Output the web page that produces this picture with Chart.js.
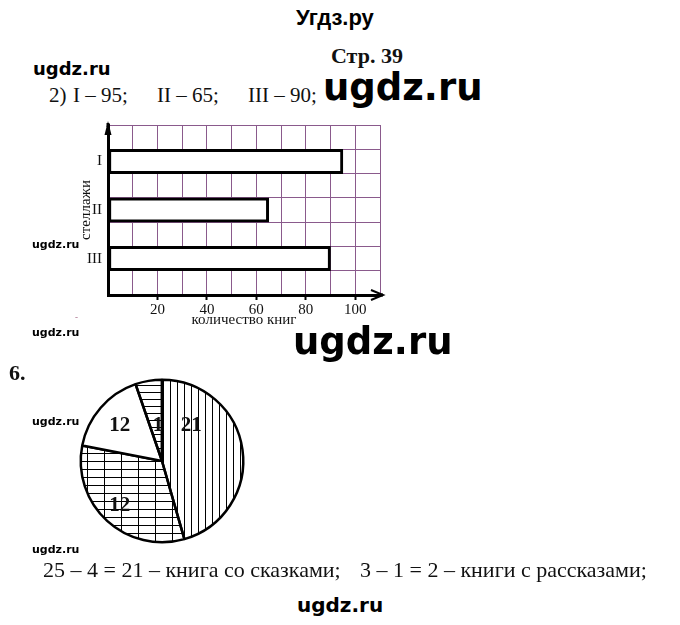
<!DOCTYPE html>
<html lang="ru">
<head>
<meta charset="utf-8">
<title>Стр. 39</title>
<script src="https://cdn.jsdelivr.net/npm/chart.js@4.4.1/dist/chart.umd.min.js"></script>
<style>
  html, body { margin: 0; padding: 0; background: #fff; }
  #page { position: relative; width: 680px; height: 625px; overflow: hidden; background: #fff; }
  .t { position: absolute; line-height: 1; white-space: pre; color: #111; }
  .serif { font-family: "Liberation Serif", "DejaVu Serif", serif; }
  .wm { font-family: "DejaVu Sans", sans-serif; font-weight: bold; color: #000; }
  canvas { position: absolute; }
</style>
</head>
<body>
<div id="page">
  <div class="t" style="left:296px;top:5px;font:bold 22px 'Liberation Sans',Arial,sans-serif;color:#000;">Угдз.ру</div>
  <div class="t serif" style="left:331px;top:45px;font-size:22px;font-weight:bold;">Стр. 39</div>
  <div class="t wm" style="left:33px;top:60px;font-size:18px;">ugdz.ru</div>

  <div class="t serif" style="left:49px;top:85px;font-size:21px;">2)</div>
  <div class="t serif" style="left:73px;top:85px;font-size:21px;">I – 95;</div>
  <div class="t serif" style="left:157px;top:85px;font-size:21px;">II – 65;</div>
  <div class="t serif" style="left:248px;top:85px;font-size:21px;">III – 90;</div>
  <div class="t wm" style="left:323px;top:69px;font-size:37px;">ugdz.ru</div>

  <canvas id="bars" width="340" height="230" style="left:60px;top:110px;"></canvas>

  <div class="t wm" style="left:32px;top:239px;font-size:11px;">ugdz.ru</div>
  <div class="t" style="left:75px;top:313px;font-size:9px;color:#a06080;">-</div>
  <div class="t wm" style="left:32px;top:327px;font-size:11px;">ugdz.ru</div>
  <div class="t wm" style="left:293px;top:323px;font-size:37px;">ugdz.ru</div>

  <div class="t serif" style="left:9px;top:362px;font-size:22px;font-weight:bold;">6.</div>
  <canvas id="pie" width="200" height="200" style="left:62px;top:361px;"></canvas>
  <div class="t wm" style="left:32px;top:416px;font-size:11px;">ugdz.ru</div>
  <div class="t wm" style="left:32px;top:544px;font-size:11px;">ugdz.ru</div>

  <div class="t serif" style="left:43px;top:559px;font-size:22px;">25 – 4 = 21 – книга со сказками;</div>
  <div class="t serif" style="left:360px;top:559px;font-size:22px;">3 – 1 = 2 – книги с рассказами;</div>
  <div class="t wm" style="left:297px;top:595px;font-size:20px;">ugdz.ru</div>
</div>

<script>
// данные: столбчатая диаграмма (стеллажи)
const shelves = ['I', 'II', 'III'];
const bookCounts = [95, 65, 90];
const xTickLabels = [20, 40, 60, 80, 100];
const xMax = 110;

// данные: круговая диаграмма (углы секторов по рисунку, подписи)
const sectorLabels = ['21', '12', '12', '1'];
const sectorDegrees = [164, 117, 60, 19];

const gridPurple = '#8a5a8c';
const serif = '"Liberation Serif", "DejaVu Serif", serif';

// строки с пустыми промежутками между стеллажами
const rowLabels = [''];
const rowValues = [null];
shelves.forEach((s, i) => {
  rowLabels.push(s, '');
  rowValues.push(bookCounts[i], null);
});

// стрелки на осях
const arrowsPlugin = {
  id: 'arrows',
  afterDraw(chart) {
    const { ctx, chartArea: a } = chart;
    ctx.save();
    ctx.strokeStyle = '#000';
    ctx.fillStyle = '#000';
    ctx.lineWidth = 3;
    // ось y вверх
    ctx.beginPath();
    ctx.moveTo(a.left, a.top + 2);
    ctx.lineTo(a.left, a.top - 2);
    ctx.stroke();
    ctx.beginPath();
    ctx.moveTo(a.left, a.top - 4);
    ctx.lineTo(a.left - 3.5, a.top + 10);
    ctx.lineTo(a.left + 3.5, a.top + 10);
    ctx.closePath();
    ctx.fill();
    // ось x вправо
    const tip = a.right + 3;
    ctx.beginPath();
    ctx.moveTo(a.right - 2, a.bottom);
    ctx.lineTo(tip, a.bottom);
    ctx.stroke();
    ctx.lineWidth = 2;
    ctx.beginPath();
    ctx.moveTo(tip - 12, a.bottom - 5);
    ctx.lineTo(tip, a.bottom);
    ctx.lineTo(tip - 12, a.bottom + 5);
    ctx.stroke();
    ctx.restore();
  }
};

new Chart(document.getElementById('bars'), {
  type: 'bar',
  data: {
    labels: rowLabels,
    datasets: [{
      data: rowValues,
      backgroundColor: '#fff',
      borderColor: '#000',
      borderWidth: 3,
      borderSkipped: false,
      categoryPercentage: 1,
      barPercentage: 1
    }]
  },
  options: {
    indexAxis: 'y',
    responsive: false,
    animation: false,
    layout: { padding: { top: 13, right: 20, left: 0, bottom: 0 } },
    plugins: { legend: { display: false }, tooltip: { enabled: false } },
    scales: {
      x: {
        type: 'linear',
        min: 0,
        max: xMax,
        ticks: {
          stepSize: 10,
          autoSkip: false,
          maxRotation: 0,
          padding: 1,
          color: '#111',
          font: { family: serif, size: 15 },
          callback: v => xTickLabels.includes(v) ? String(v) : ''
        },
        grid: {
          color: gridPurple,
          lineWidth: 1,
          tickLength: 5,
          tickWidth: 2,
          tickColor: c => xTickLabels.includes(c.tick && c.tick.value) ? '#000' : 'rgba(0,0,0,0)'
        },
        border: { color: '#000', width: 3 },
        title: {
          display: true,
          text: 'количество книг',
          color: '#111',
          font: { family: serif, size: 15 },
          padding: { top: 0, bottom: 11 }
        },
        afterFit: s => { s.height = 45; }
      },
      y: {
        ticks: { color: '#111', padding: 6, font: { family: serif, size: 15 } },
        grid: { color: gridPurple, lineWidth: 1, drawTicks: false, offset: true },
        border: { color: '#000', width: 3 },
        title: {
          display: true,
          text: 'стеллажи',
          color: '#111',
          font: { family: serif, size: 15 },
          padding: { top: 17, bottom: 0 }
        },
        afterFit: s => { s.width = 48; }
      }
    }
  },
  plugins: [arrowsPlugin]
});

// штриховки
const pieCanvas = document.getElementById('pie');
const pctx = pieCanvas.getContext('2d');
function hatch(w, h, draw) {
  const c = document.createElement('canvas');
  c.width = w;
  c.height = h;
  const g = c.getContext('2d');
  g.fillStyle = '#000';
  draw(g);
  return pctx.createPattern(c, 'repeat');
}
const vertHatch = hatch(7, 8, g => g.fillRect(3, 0, 1, 8));
const gridHatch = hatch(17, 8, g => { g.fillRect(8, 0, 1, 8); g.fillRect(0, 4, 17, 1); });
const horizHatch = hatch(8, 7, g => g.fillRect(0, 3, 8, 1));

// положение подписей относительно центра (в долях радиуса)
const labelSpots = [[0.36, -0.44], [-0.52, 0.55], [-0.52, -0.44], [-0.05, -0.44]];

const pieLabels = {
  id: 'pieLabels',
  afterDatasetsDraw(chart) {
    const arc = chart.getDatasetMeta(0).data[0];
    if (!arc) return;
    const { x, y, outerRadius: r } = arc;
    const ctx = chart.ctx;
    ctx.save();
    ctx.fillStyle = '#111';
    ctx.font = 'bold 21px ' + serif;
    ctx.textAlign = 'center';
    ctx.textBaseline = 'middle';
    sectorLabels.forEach((t, i) => {
      ctx.fillText(t, x + labelSpots[i][0] * r, y + labelSpots[i][1] * r);
    });
    ctx.restore();
  }
};

new Chart(pieCanvas, {
  type: 'pie',
  data: {
    labels: sectorLabels,
    datasets: [{
      data: sectorDegrees,
      backgroundColor: [vertHatch, gridHatch, '#fff', horizHatch],
      borderColor: '#000',
      borderWidth: 2.5
    }]
  },
  options: {
    responsive: false,
    animation: false,
    layout: { padding: 17.5 },
    plugins: { legend: { display: false }, tooltip: { enabled: false } }
  },
  plugins: [pieLabels]
});
</script>
</body>
</html>
